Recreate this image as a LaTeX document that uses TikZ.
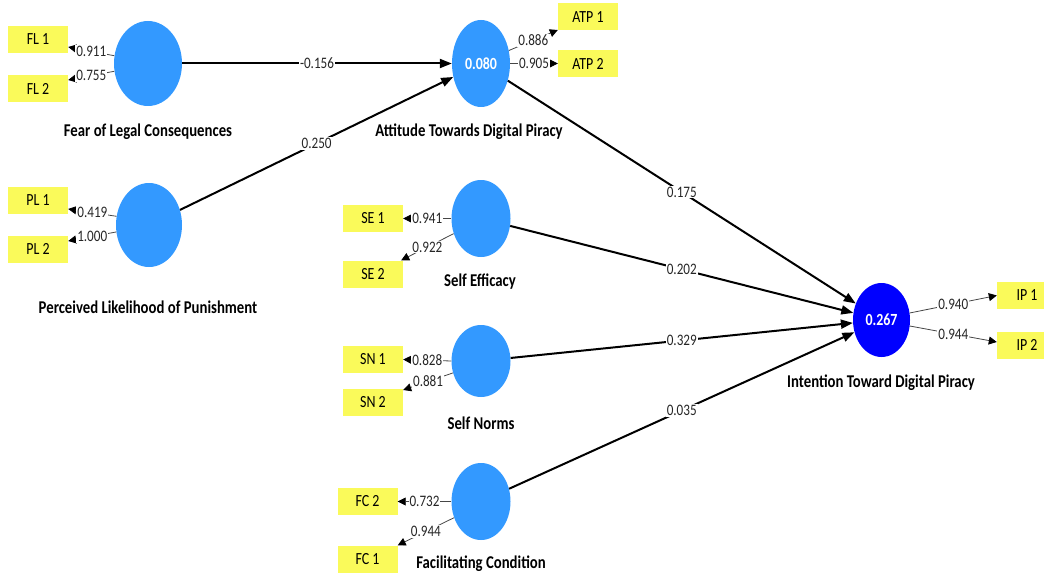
\documentclass[tikz,border=0pt]{standalone}
\usepackage{fontspec}
\setmainfont{Carlito}[FakeStretch=0.82]
\usetikzlibrary{shapes.geometric,arrows.meta}
\definecolor{lvblue}{RGB}{51,153,255}
\definecolor{r2blue}{RGB}{0,0,255}
\definecolor{indyellow}{RGB}{250,250,90}
\definecolor{loadgray}{RGB}{70,70,70}
\begin{document}
\begin{tikzpicture}[x=1pt,y=-1pt,
  latent/.style={ellipse, fill=lvblue, draw=none, inner sep=0pt, text=white,
    font=\bfseries\fontsize{17}{18}\selectfont},
  indicator/.style={rectangle, fill=indyellow, draw=none, minimum width=60pt,
    minimum height=27pt, inner sep=0pt, font=\fontsize{17}{18}\selectfont},
  lvname/.style={font=\bfseries\fontsize{18}{20}\selectfont, text=black},
  structural/.style={line width=2pt, draw=black,
    -{Triangle[length=12pt,width=9pt]}},
  loading/.style={line width=0.8pt, draw=loadgray,
    -{Triangle[length=8pt,width=8pt,color=black]}},
  coef/.style={fill=white, inner sep=1pt, font=\fontsize{16}{17}\selectfont,
    text=black!85},
]
\useasboundingbox (0,0) rectangle (1044,575);
\clip (0,0) rectangle (1044,575);

% latent variables
\node[latent, minimum width=68pt, minimum height=85pt] (fl)  at (148,63.5) {};
\node[latent, minimum width=66pt, minimum height=84pt] (pl)  at (149,225) {};
\node[latent, minimum width=58pt, minimum height=87pt] (atp) at (481,63.5) {0.080};
\node[latent, minimum width=59pt, minimum height=77pt] (se)  at (481,218.5) {};
\node[latent, minimum width=59pt, minimum height=72pt] (sn)  at (481,361) {};
\node[latent, minimum width=59pt, minimum height=77pt] (fc)  at (481,501.5) {};
\node[latent, fill=r2blue, minimum width=57pt, minimum height=74pt] (ip) at (881.5,320) {0.267};

% construct names
\node[lvname] (flname)  at (148,132) {Fear of Legal Consequences};
\node[lvname] (plname)  at (148,307) {Perceived Likelihood of Punishment};
\node[lvname] (atpname) at (469,132) {Attitude Towards Digital Piracy};
\node[lvname] (sename)  at (480,282) {Self Efficacy};
\node[lvname] (snname)  at (481,423) {Self Norms};
\node[lvname] (fcname)  at (481,564) {Facilitating Condition};
\node[lvname] (ipname)  at (881,383) {Intention Toward Digital Piracy};

% indicators
\node[indicator] (fl1)  at (38,39.5)   {FL 1};
\node[indicator] (fl2)  at (38,88.5)   {FL 2};
\node[indicator] (pl1)  at (38,200)    {PL 1};
\node[indicator] (pl2)  at (38,249)    {PL 2};
\node[indicator] (atp1) at (588,17)    {ATP 1};
\node[indicator] (atp2) at (588,63.5)  {ATP 2};
\node[indicator] (se1)  at (373,218.5) {SE 1};
\node[indicator] (se2)  at (373,274)   {SE 2};
\node[indicator] (sn1)  at (373,359.5) {SN 1};
\node[indicator] (sn2)  at (373,402)   {SN 2};
\node[indicator] (fc2)  at (367.5,501.5) {FC 2};
\node[indicator] (fc1)  at (367.5,559) {FC 1};
\node[indicator] (ip1)  at (1027,295.5) {IP 1};
\node[indicator] (ip2)  at (1027,345)  {IP 2};

% outer loadings
\draw[loading] (fl.167) -- node[coef]{0.911} ([yshift=-7.5pt]fl1.east);
\draw[loading] (fl.193) -- node[coef]{0.755} ([yshift=8.5pt]fl2.east);
\draw[loading] (pl.165) -- node[coef]{0.419} ([yshift=-9pt]pl1.east);
\draw[loading] (pl.192) -- node[coef]{1.000} ([yshift=8pt]pl2.east);
\draw[loading] (atp.25) -- node[coef]{0.886} ([yshift=-13pt]atp1.west);
\draw[loading] (atp.east) -- node[coef]{0.905} (atp2.west);
\draw[loading] (se.west) -- node[coef]{0.941} (se1.east);
\draw[loading] (se.209) -- node[coef]{0.922} ([xshift=-2pt]se2.north east);
\draw[loading] (sn.west) -- node[coef]{0.828} (sn1.east);
\draw[loading] (sn.203) -- node[coef]{0.881} ([yshift=12pt]sn2.east);
\draw[loading] (fc.west) -- node[coef]{0.732} (fc2.east);
\draw[loading] (fc.211) -- node[coef]{0.944} (fc1.north east);
\draw[loading] (ip.14) -- node[coef]{0.940} (ip1.west);
\draw[loading] (ip.-12) -- node[coef]{0.944} ([yshift=3pt]ip2.west);

% path coefficients
\draw[structural] (fl)  -- node[coef]{-0.156} (atp);
\draw[structural] (pl)  -- node[coef]{0.250} (atp);
\draw[structural] (atp) -- node[coef]{0.175} (ip);
\draw[structural] (se)  -- node[coef]{0.202} (ip);
\draw[structural] (sn)  -- node[coef]{0.329} (ip);
\draw[structural] (fc)  -- node[coef]{0.035} (ip);
\end{tikzpicture}
\end{document}
